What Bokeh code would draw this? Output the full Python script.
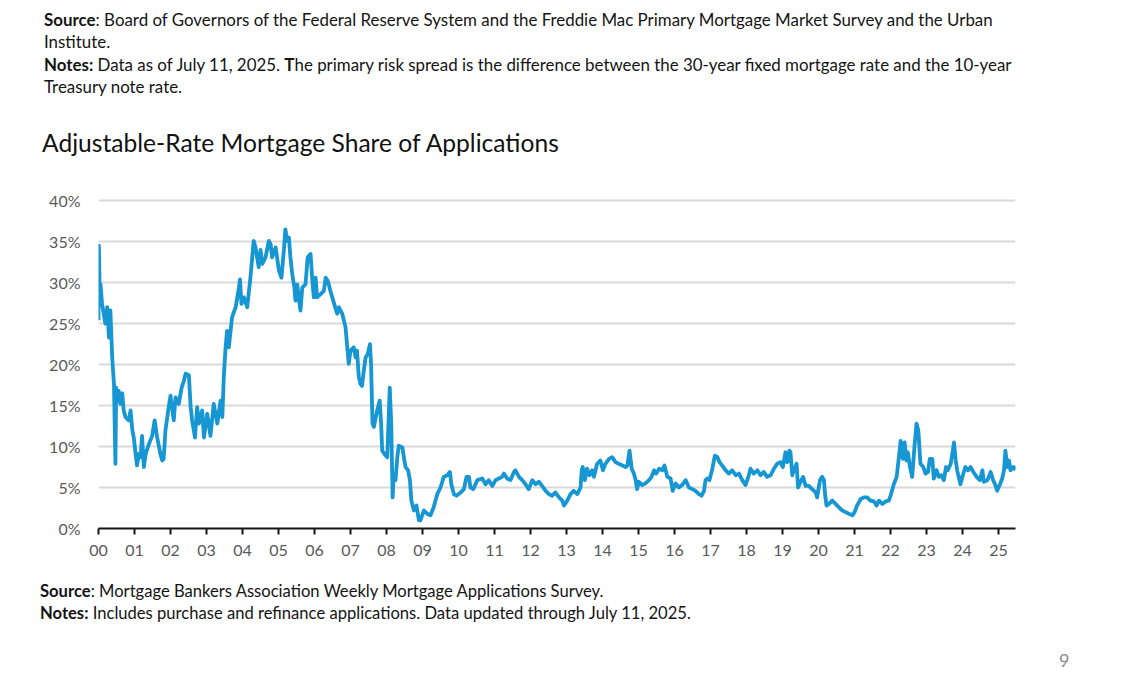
from bokeh.plotting import figure
from bokeh.models import Range1d, FixedTicker, Div
from bokeh.layouts import column
from bokeh.embed import file_html
from bokeh.resources import INLINE

# ---- data: ARM share of applications (%), x = years since 2000 ----
years_2000_2004 = [0.0, 0.01, 0.03, 0.056, 0.10, 0.19, 0.24, 0.29, 0.33, 0.38, 0.43, 0.47, 0.49,
                   0.52, 0.56, 0.61, 0.66, 0.70, 0.75, 0.84, 0.89, 0.94, 0.98, 1.03, 1.07, 1.12,
                   1.17, 1.21, 1.26, 1.31, 1.40, 1.49, 1.56, 1.63, 1.72, 1.77, 1.81, 1.86, 1.95,
                   2.00, 2.09, 2.14, 2.23, 2.31, 2.37, 2.42, 2.51, 2.56, 2.60, 2.68, 2.74, 2.79,
                   2.88, 2.93, 3.02, 3.11, 3.20, 3.30, 3.39, 3.44, 3.48, 3.53, 3.57, 3.62, 3.71,
                   3.81, 3.90, 3.93, 3.97]
share_2000_2004 = [25.4, 34.5, 29.8, 29.8, 27.4, 25.0, 27.0, 23.3, 26.6, 20.9, 17.6, 7.9, 17.2,
                   15.5, 16.8, 15.2, 16.5, 14.4, 13.6, 13.2, 14.4, 12.0, 11.1, 9.1, 7.7, 9.1,
                   8.7, 11.3, 7.5, 9.1, 10.3, 11.3, 13.2, 11.1, 9.1, 8.3, 8.5, 12.0, 14.8,
                   16.2, 13.2, 16.0, 15.2, 17.2, 18.0, 18.9, 18.7, 14.8, 13.2, 11.1, 14.8, 12.8,
                   14.4, 11.1, 14.0, 11.3, 15.2, 12.8, 15.6, 13.6, 18.5, 22.1, 24.1, 22.1, 25.8,
                   27.0, 29.4, 30.4, 27.4]

years_2004_2008 = [4.04, 4.13, 4.18, 4.22, 4.27, 4.31, 4.36, 4.45, 4.50, 4.55, 4.64, 4.73, 4.78,
                   4.82, 4.92, 5.01, 5.08, 5.15, 5.19, 5.24, 5.29, 5.33, 5.38, 5.44, 5.47, 5.52,
                   5.56, 5.61, 5.66, 5.75, 5.81, 5.89, 5.94, 5.98, 6.03, 6.07, 6.17, 6.26, 6.31,
                   6.37, 6.44, 6.54, 6.63, 6.68, 6.77, 6.86, 6.95, 7.00, 7.09, 7.14, 7.18, 7.23,
                   7.28, 7.32, 7.37, 7.42, 7.48, 7.54, 7.57, 7.61, 7.65, 7.74, 7.81, 7.85, 7.88,
                   7.94]
share_2004_2008 = [28.2, 27.0, 29.0, 30.6, 33.1, 35.1, 34.3, 31.9, 34.0, 32.3, 33.1, 35.1, 34.7,
                   33.1, 34.3, 31.5, 30.6, 34.0, 36.5, 35.1, 35.5, 33.1, 31.1, 29.4, 27.8, 29.8,
                   28.2, 26.6, 29.4, 29.8, 33.1, 33.5, 30.2, 28.2, 30.6, 28.2, 28.6, 29.0, 30.6,
                   30.2, 29.0, 27.5, 26.2, 27.0, 26.2, 24.6, 20.1, 21.7, 22.1, 20.9, 21.7, 18.5,
                   17.6, 17.4, 19.3, 20.9, 21.3, 22.5, 20.1, 12.8, 12.4, 14.4, 15.6, 12.8, 9.5,
                   9.1]

years_2008_2013 = [8.02, 8.09, 8.13, 8.17, 8.20, 8.25, 8.30, 8.34, 8.44, 8.48, 8.53, 8.60, 8.65,
                   8.69, 8.76, 8.83, 8.90, 8.94, 9.04, 9.13, 9.22, 9.31, 9.41, 9.50, 9.59, 9.69,
                   9.76, 9.80, 9.87, 9.94, 10.06, 10.15, 10.22, 10.29, 10.33, 10.41, 10.52, 10.66,
                   10.75, 10.84, 10.94, 11.03, 11.12, 11.21, 11.26, 11.35, 11.44, 11.54, 11.58,
                   11.68, 11.77, 11.86, 11.95, 12.05, 12.14, 12.23, 12.32, 12.42, 12.51, 12.60,
                   12.69, 12.79, 12.88, 12.93]
share_2008_2013 = [8.7, 17.2, 12.8, 3.8, 6.7, 5.9, 8.7, 10.1, 9.9, 8.7, 7.5, 7.1, 5.9,
                   3.4, 2.2, 2.8, 1.0, 1.0, 2.2, 1.8, 1.6, 2.6, 4.2, 5.0, 6.3, 6.5,
                   6.9, 5.4, 4.2, 4.0, 4.4, 4.8, 6.3, 6.3, 5.0, 4.8, 5.9, 6.1,
                   5.4, 5.9, 5.2, 5.9, 6.1, 6.3, 6.7, 6.1, 5.9, 6.9, 7.1,
                   6.3, 5.9, 5.4, 4.8, 5.9, 5.4, 5.7, 5.2, 4.6, 4.2, 4.0,
                   4.4, 3.8, 3.4, 2.8]

years_2013_2019 = [13.02, 13.11, 13.20, 13.30, 13.39, 13.42, 13.45, 13.51, 13.57, 13.64, 13.71,
                   13.76, 13.85, 13.94, 14.01, 14.08, 14.18, 14.27, 14.36, 14.45, 14.55, 14.64,
                   14.69, 14.75, 14.81, 14.87, 14.92, 14.96, 15.01, 15.10, 15.19, 15.29, 15.36,
                   15.43, 15.49, 15.57, 15.66, 15.72, 15.80, 15.89, 15.95, 16.03, 16.12, 16.21,
                   16.31, 16.40, 16.49, 16.58, 16.68, 16.75, 16.82, 16.86, 16.91, 16.97, 17.05,
                   17.12, 17.19, 17.25, 17.32, 17.42, 17.51, 17.60, 17.70, 17.79, 17.88, 17.97,
                   18.05, 18.11, 18.20, 18.30, 18.39, 18.48, 18.57, 18.67, 18.76, 18.85, 18.94,
                   19.01, 19.08, 19.13, 19.19]
share_2013_2019 = [3.4, 4.2, 4.6, 4.2, 5.0, 7.1, 7.5, 5.9, 7.3, 6.5, 7.1,
                   6.3, 7.9, 8.3, 7.1, 7.9, 8.5, 8.7, 8.1, 7.9, 7.7, 7.5,
                   7.7, 9.5, 7.3, 6.7, 5.9, 4.8, 5.7, 5.3, 5.5, 5.9, 6.3,
                   7.1, 6.7, 7.3, 7.1, 7.7, 6.3, 6.1, 4.6, 5.5, 5.0, 5.3,
                   5.9, 5.0, 4.8, 4.6, 4.2, 4.0, 4.6, 5.9, 6.1, 5.9, 7.3,
                   8.9, 8.7, 8.1, 7.7, 7.1, 6.7, 7.1, 6.5, 6.7, 5.9, 5.3,
                   6.3, 7.3, 6.7, 7.1, 6.5, 6.9, 6.3, 6.5, 7.3, 7.9, 8.1,
                   7.5, 9.3, 8.1, 9.5]

years_2019_2025 = [19.22, 19.27, 19.33, 19.39, 19.43, 19.50, 19.57, 19.64, 19.73, 19.82, 19.92,
                   19.96, 20.04, 20.10, 20.15, 20.18, 20.22, 20.29, 20.38, 20.47, 20.56, 20.66,
                   20.75, 20.84, 20.94, 21.00, 21.07, 21.17, 21.26, 21.35, 21.44, 21.54, 21.61,
                   21.68, 21.77, 21.86, 21.95, 22.00, 22.09, 22.17, 22.23, 22.28, 22.34, 22.39,
                   22.44, 22.48, 22.54, 22.60, 22.67, 22.72, 22.77, 22.83, 22.91, 22.97, 23.04,
                   23.09, 23.16, 23.20, 23.28, 23.34, 23.41, 23.48, 23.54, 23.59, 23.67, 23.73,
                   23.76, 23.81, 23.85, 23.94, 24.02, 24.08, 24.15, 24.22, 24.30, 24.39, 24.48,
                   24.55, 24.59, 24.69, 24.78, 24.85, 24.92, 24.96, 25.04, 25.10, 25.15, 25.19,
                   25.24, 25.29, 25.33, 25.41, 25.44, 25.50]
share_2019_2025 = [9.3, 6.5, 7.3, 7.9, 5.0, 5.7, 6.3, 5.2, 5.2, 4.8, 4.4,
                   3.8, 5.9, 6.3, 5.9, 4.2, 2.8, 3.0, 3.4, 3.0, 2.6, 2.2,
                   2.0, 1.8, 1.6, 2.0, 2.8, 3.6, 3.8, 3.8, 3.4, 3.3, 2.8,
                   3.4, 3.0, 3.3, 3.4, 4.0, 5.4, 6.3, 8.7, 10.7, 8.5, 10.5,
                   8.3, 9.3, 7.5, 6.3, 10.3, 12.8, 12.0, 7.9, 7.5, 6.7, 6.9,
                   8.5, 8.5, 6.1, 7.1, 6.3, 6.5, 5.9, 7.5, 7.1, 7.9, 9.5,
                   10.5, 8.3, 7.1, 5.4, 6.7, 7.5, 7.1, 7.5, 6.9, 6.3, 5.9,
                   7.1, 5.7, 5.9, 6.9, 5.9, 5.2, 4.6, 5.4, 6.1, 7.1, 9.5,
                   7.5, 8.3, 7.1, 7.5, 7.3, 7.5]

x_tick_values = list(range(0, 26))
x_tick_labels = ["00", "01", "02", "03", "04", "05", "06", "07", "08", "09", "10", "11", "12",
                 "13", "14", "15", "16", "17", "18", "19", "20", "21", "22", "23", "24", "25"]
y_tick_values = [0, 5, 10, 15, 20, 25, 30, 35, 40]
y_tick_labels = ["0%", "5%", "10%", "15%", "20%", "25%", "30%", "35%", "40%"]

title_text = "Adjustable-Rate Mortgage Share of Applications"
top_source = ": Board of Governors of the Federal Reserve System and the Freddie Mac Primary Mortgage Market Survey and the Urban"
top_source_2 = "Institute."
top_notes = " Data as of July 11, 2025. <b>T</b>he primary risk spread is the difference between the 30-year fixed mortgage rate and the 10-year"
top_notes_2 = "Treasury note rate."
bottom_source = ": Mortgage Bankers Association Weekly Mortgage Applications Survey."
bottom_notes = " Includes purchase and refinance applications. Data updated through July 11, 2025."
page_number = "9"

years = years_2000_2004 + years_2004_2008 + years_2008_2013 + years_2013_2019 + years_2019_2025
share = share_2000_2004 + share_2004_2008 + share_2008_2013 + share_2013_2019 + share_2019_2025

FONT = "Lato"
BLUE = "#1696d2"
GRAY = "#595959"
TEXT = "#141414"

W = 1124
TOP_H = 180          # height of the header block
FIG_H = 388          # chart block
BOT_H = 98           # footer block

FRAME_LEFT = 98
FRAME_W = 917
FRAME_H = 336        # 41 percentage points * 8.2 px
FRAME_TOP = 12       # inside figure (page y 192)

top_html = f"""
<div style="position:relative;width:{W}px;height:{TOP_H}px;font-family:Lato;color:{TEXT};">
  <div style="position:absolute;left:44px;top:9px;font-size:16.9px;line-height:22.4px;white-space:nowrap;">
    <b>Source</b>{top_source}<br>{top_source_2}<br><b>Notes:</b>{top_notes}<br>{top_notes_2}
  </div>
  <div style="position:absolute;left:42px;top:127px;font-size:24.6px;line-height:32px;white-space:nowrap;color:#111111;">{title_text}</div>
</div>
"""
bottom_html = f"""
<div style="position:relative;width:{W}px;height:{BOT_H}px;font-family:Lato;color:{TEXT};">
  <div style="position:absolute;left:40px;top:12px;font-size:16.6px;line-height:22px;white-space:nowrap;">
    <b>Source</b>{bottom_source}<br><b>Notes:</b>{bottom_notes}
  </div>
  <div style="position:absolute;left:1059px;top:81px;font-size:18px;line-height:22px;color:#8c8c8c;">{page_number}</div>
</div>
"""

top_div = Div(text=top_html, width=W, height=TOP_H, margin=0)
bottom_div = Div(text=bottom_html, width=W, height=BOT_H, margin=0)

p = figure(width=W, height=FIG_H, output_backend="svg", toolbar_location=None,
           x_range=Range1d(0, 25.47), y_range=Range1d(0, 41),
           frame_width=FRAME_W, frame_height=FRAME_H,
           min_border_left=FRAME_LEFT, min_border_right=W - FRAME_LEFT - FRAME_W,
           min_border_top=FRAME_TOP, min_border_bottom=FIG_H - FRAME_TOP - FRAME_H,
           margin=0)
p.outline_line_color = None
p.background_fill_color = "white"
p.border_fill_color = "white"

p.line(years, share, line_color=BLUE, line_width=3.8, line_join="round")

# grid
p.xgrid.grid_line_color = None
p.ygrid.ticker = FixedTicker(ticks=y_tick_values[1:])
p.ygrid.grid_line_color = "#d9d9d9"
p.ygrid.grid_line_width = 2

# y axis
ya = p.yaxis[0]
ya.ticker = FixedTicker(ticks=y_tick_values)
ya.major_label_overrides = dict(zip(y_tick_values, y_tick_labels))
ya.axis_line_color = None
ya.major_tick_line_color = None
ya.minor_tick_line_color = None
ya.major_tick_in = 0
ya.major_tick_out = 0
ya.major_label_standoff = 18
ya.major_label_text_font = FONT
ya.major_label_text_font_size = "16px"
ya.major_label_text_color = GRAY

# x axis
xa = p.xaxis[0]
xa.ticker = FixedTicker(ticks=x_tick_values)
xa.major_label_overrides = dict(zip(x_tick_values, x_tick_labels))
xa.axis_line_color = TEXT
xa.axis_line_width = 2
xa.major_tick_line_color = TEXT
xa.major_tick_line_width = 2
xa.major_tick_in = 0
xa.major_tick_out = 6
xa.minor_tick_line_color = None
xa.major_label_standoff = 10
xa.major_label_text_font = FONT
xa.major_label_text_font_size = "16px"
xa.major_label_text_color = GRAY

layout = column(top_div, p, bottom_div, spacing=0, margin=0)

open("out.html", "w").write(file_html(layout, INLINE))
